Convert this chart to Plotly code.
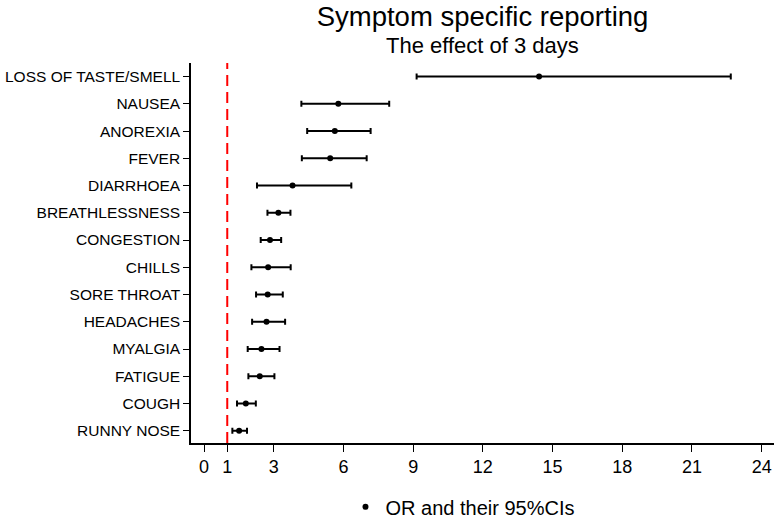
import plotly.graph_objects as go

symptoms = ["LOSS OF TASTE/SMELL", "NAUSEA", "ANOREXIA", "FEVER", "DIARRHOEA",
            "BREATHLESSNESS", "CONGESTION", "CHILLS", "SORE THROAT", "HEADACHES",
            "MYALGIA", "FATIGUE", "COUGH", "RUNNY NOSE"]
odds_ratio = [14.42, 5.78, 5.63, 5.43, 3.81, 3.20, 2.84, 2.76, 2.74, 2.69, 2.47, 2.40, 1.80, 1.51]
ci_low =     [9.15, 4.19, 4.44, 4.21, 2.28, 2.73, 2.44, 2.04, 2.24, 2.07, 1.88, 1.91, 1.42, 1.22]
ci_high =    [22.67, 7.97, 7.17, 7.00, 6.34, 3.72, 3.32, 3.73, 3.39, 3.49, 3.25, 3.03, 2.23, 1.85]
x_ticks = [0, 1, 3, 6, 9, 12, 15, 18, 21, 24]
ref_value = 1

err_plus = [h - o for h, o in zip(ci_high, odds_ratio)]
err_minus = [o - l for o, l in zip(odds_ratio, ci_low)]

FONT = "Liberation Sans, Arial, Helvetica, sans-serif"

fig = go.Figure()
fig.add_trace(go.Scatter(
    x=odds_ratio, y=symptoms, mode="markers",
    name="OR and their 95%CIs",
    marker=dict(color="black", size=6),
    error_x=dict(type="data", symmetric=False, array=err_plus, arrayminus=err_minus,
                 color="black", thickness=2, width=3),
    showlegend=True,
))

fig.add_shape(type="line", xref="x", yref="paper", x0=ref_value, x1=ref_value, y0=0, y1=1,
              line=dict(color="#ff0000", width=2, dash="11px,6px"))

fig.update_layout(
    width=774, height=523,
    margin=dict(l=191, r=0, t=63, b=80, autoexpand=False),
    paper_bgcolor="white", plot_bgcolor="white",
    font=dict(family=FONT, color="black"),
    title=dict(text="Symptom specific reporting", font=dict(size=27.5, family=FONT, color="black"),
               x=0.5, xref="paper", xanchor="center",
               y=1 - 16 / 523, yref="container", yanchor="middle"),
    showlegend=True,
    legend=dict(orientation="h", x=0.265, xanchor="left", y=-0.168, yanchor="middle",
                font=dict(size=20, family=FONT, color="black"), bgcolor="rgba(0,0,0,0)"),
    annotations=[dict(text="The effect of 3 days", xref="paper", yref="paper",
                      x=0.5, y=1 + 17 / 380, xanchor="center", yanchor="middle",
                      showarrow=False, font=dict(size=22, family=FONT, color="black"))],
)

fig.update_xaxes(range=[-0.56, 24.53], tickvals=x_ticks, ticktext=[str(t) for t in x_ticks],
                 automargin=False,
                 showgrid=False, zeroline=False, showline=True, linecolor="black", linewidth=1.5,
                 ticks="outside", ticklen=7, tickwidth=1.2, tickcolor="black",
                 tickfont=dict(size=18, family=FONT, color="black"))
fig.update_yaxes(type="category", categoryorder="array", categoryarray=symptoms[::-1],
                 range=[-0.45, 13.5], automargin=False,
                 showgrid=False, zeroline=False, showline=True, linecolor="black", linewidth=1.5,
                 ticks="outside", ticklen=6, tickwidth=1.2, tickcolor="black",
                 tickfont=dict(size=15.5, family=FONT, color="black"))

fig.write_html("out.html", config={"displayModeBar": False},
               post_script="document.body.style.margin='0';document.body.style.overflow='hidden';")
